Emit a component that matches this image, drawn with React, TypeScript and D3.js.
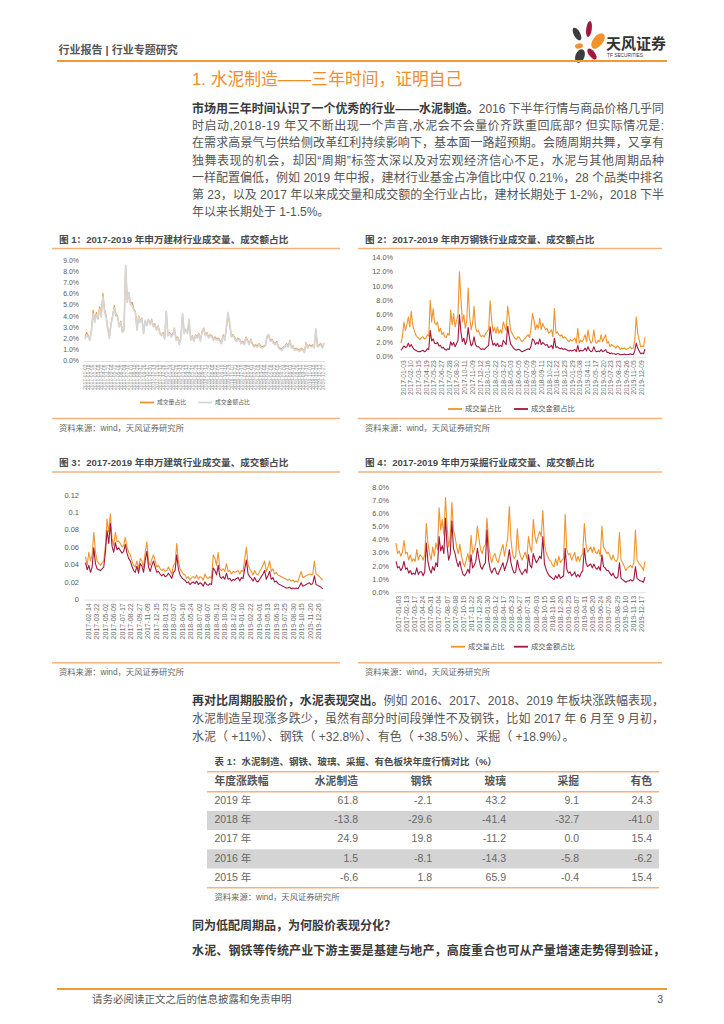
import React from 'react';
import * as d3 from 'd3';

const SANS = "'Liberation Sans', Arial, 'Noto Sans CJK SC', sans-serif";
const ORANGE = '#f0932b';
const CRIMSON = '#a3163d';
const GRAY = '#d6d6d6';
const RULE = '#f5b27c';

// ---------- Chart 1: 建材 ----------
const c1Volume = [2.2,2.6,2.3,2.0,2.9,4.6,3.6,4.4,3.8,4.9,4.2,6.1,4.7,4.1,3.0,2.2,3.4,4.1,5.0,4.3,4.1,3.2,3.6,2.7,2.9,8.5,5.5,6.0,5.2,5.3,4.7,4.5,2.9,4.1,3.6,3.9,2.6,3.6,3.3,3.7,3.4,3.8,3.2,3.4,2.9,3.2,2.6,2.4,2.6,2.1,4.4,2.4,2.6,2.3,2.5,2.9,2.0,2.2,1.6,2.2,4.2,2.6,2.8,2.6,3.6,2.0,2.3,1.9,2.4,2.2,2.5,1.9,2.7,3.0,2.4,2.6,2.2,2.4,2.3,2.0,2.2,2.0,2.1,1.9,1.7,2.4,2.0,3.0,4.2,3.3,2.3,2.4,2.2,1.9,2.1,2.0,1.7,1.8,1.6,2.2,1.9,1.6,2.0,1.6,1.4,1.5,1.4,1.6,1.4,1.3,1.4,1.5,2.2,2.3,1.9,2.0,1.7,1.6,1.8,1.3,1.2,1.1,1.3,1.4,1.6,1.4,1.9,1.3,1.4,1.1,1.2,1.1,1.0,1.2,1.1,0.9,1.7,1.3,1.5,1.4,1.5,1.3,2.8,1.4,1.5,1.6,1.3,1.6];
const c1Amount = [2.0,2.4,2.2,1.9,2.8,4.3,3.5,4.2,3.9,4.7,4.0,5.8,4.5,3.9,2.9,2.1,3.3,4.0,4.8,4.1,4.0,3.1,3.5,2.6,2.8,8.6,5.3,6.2,5.1,5.0,4.6,4.4,2.8,4.0,3.5,3.8,2.5,3.7,3.2,3.8,3.3,3.7,3.1,3.3,2.8,3.1,2.5,2.3,2.5,2.0,4.5,2.3,2.5,2.2,2.4,3.0,1.9,2.1,1.5,2.1,4.3,2.5,2.9,2.5,3.8,1.9,2.2,1.8,2.3,2.1,2.4,1.8,2.6,2.9,2.3,2.5,2.1,2.3,2.2,1.9,2.1,1.9,2.0,1.8,1.6,2.3,1.9,3.2,4.4,3.5,2.2,2.3,2.1,1.8,2.0,1.9,1.6,1.7,1.5,2.1,1.8,1.5,1.9,1.5,1.3,1.4,1.3,1.5,1.3,1.2,1.3,1.4,2.3,2.4,1.8,1.9,1.6,1.5,1.7,1.2,1.1,1.0,1.2,1.3,1.5,1.3,1.8,1.2,1.3,1.0,1.1,1.0,0.9,1.1,1.0,0.8,1.6,1.2,1.4,1.3,1.4,1.2,2.9,1.3,1.4,1.5,1.2,1.7];
const c1Dates = ["2017-01-03","2017-01-18","2017-02-08","2017-02-22","2017-03-08","2017-03-22","2017-04-06","2017-04-21","2017-05-08","2017-05-22","2017-06-06","2017-06-20","2017-07-04","2017-07-18","2017-08-01","2017-08-15","2017-08-29","2017-09-12","2017-09-26","2017-10-17","2017-10-31","2017-11-14","2017-11-28","2017-12-12","2017-12-26","2018-01-10","2018-01-24","2018-02-07","2018-02-28","2018-03-14","2018-03-28","2018-04-13","2018-04-27","2018-05-15","2018-05-29","2018-06-12","2018-06-27","2018-07-11","2018-07-25","2018-08-08","2018-08-22","2018-09-05","2018-09-19","2018-10-10","2018-10-24","2018-11-07","2018-11-21","2018-12-05","2018-12-19","2019-01-04","2019-01-18","2019-02-01","2019-02-22","2019-03-08","2019-03-22","2019-04-08","2019-04-22","2019-05-08","2019-05-22","2019-06-05","2019-06-20","2019-07-04","2019-07-18","2019-08-01","2019-08-15","2019-08-29","2019-09-12","2019-09-27","2019-10-18","2019-11-01","2019-11-15","2019-11-29","2019-12-13","2019-12-27"];
const c1Ticks = [0,1,2,3,4,5,6,7,8,9];

// ---------- Chart 2: 钢铁 ----------
const c2Volume = [2.0,3.0,5.0,3.8,4.6,5.7,4.3,6.5,4.6,3.8,3.2,2.9,2.7,2.5,2.8,2.9,2.6,2.7,3.2,3.0,8.1,5.0,6.9,4.9,4.6,5.0,3.6,4.1,3.2,3.5,2.9,2.8,3.4,3.1,6.7,4.6,6.2,4.3,5.1,6.0,12.1,8.3,5.0,6.0,4.1,5.2,9.8,5.7,3.9,4.8,7.2,4.3,3.6,3.8,3.2,2.9,3.1,2.9,3.4,3.6,4.0,8.0,5.3,3.6,4.2,3.4,4.3,3.4,3.9,3.4,5.0,4.3,3.8,7.2,5.7,3.9,3.4,3.0,2.7,2.5,2.9,2.8,2.4,2.2,2.5,2.7,3.0,3.2,2.8,4.1,6.2,5.3,3.9,4.6,4.1,5.5,3.9,4.8,4.3,3.9,4.1,3.4,3.6,3.9,2.9,6.9,3.4,3.6,3.2,3.0,3.2,2.7,2.9,2.7,2.4,2.2,2.5,2.3,2.5,2.7,2.0,4.1,2.0,2.4,2.2,2.6,3.2,2.2,3.9,2.5,2.0,2.3,3.9,2.2,2.0,2.4,2.2,3.2,2.2,2.7,3.2,2.0,2.2,1.5,1.8,1.7,1.5,1.3,1.6,1.5,1.1,1.3,1.2,1.3,1.1,1.2,1.3,1.5,1.2,1.3,2.5,5.7,3.4,2.5,1.5,1.6,1.5,2.9];
const c2Amount = [1.0,1.3,1.6,1.4,1.5,2.0,1.5,1.8,1.4,1.1,1.0,0.9,0.8,0.8,0.9,1.0,0.8,0.9,1.2,1.1,3.8,2.3,2.6,2.0,1.9,2.1,1.6,1.7,1.3,1.4,1.1,1.0,1.2,1.1,2.2,1.7,2.1,1.5,1.9,2.4,6.0,3.6,2.2,2.7,1.8,2.3,4.2,2.6,1.6,1.9,2.9,1.8,1.5,1.5,1.3,1.1,1.2,1.1,1.3,1.5,1.7,4.3,2.6,1.7,2.0,1.6,2.0,1.5,1.7,1.5,2.4,2.1,1.8,4.4,3.0,1.9,1.6,1.3,1.1,1.0,1.1,1.1,0.9,0.8,0.9,1.0,1.1,1.2,1.1,1.6,2.6,2.4,1.8,2.1,1.9,2.6,1.8,2.1,1.9,1.7,1.8,1.4,1.5,1.7,1.2,2.7,1.4,1.5,1.3,1.2,1.3,1.1,1.2,1.1,1.0,0.9,1.0,0.9,1.0,1.1,0.8,1.7,0.8,1.0,0.9,1.0,1.3,0.9,1.5,1.0,0.8,0.9,1.5,0.9,0.8,0.9,0.8,1.1,0.8,0.9,1.1,0.7,0.7,0.5,0.6,0.5,0.5,0.4,0.5,0.5,0.35,0.4,0.4,0.45,0.35,0.4,0.4,0.5,0.4,0.4,0.9,2.0,1.3,0.9,0.5,0.6,0.5,1.2];
const c2Dates = ["2017-01-03","2017-02-10","2017-03-15","2017-04-19","2017-05-23","2017-06-27","2017-07-28","2017-08-30","2017-10-11","2017-11-09","2017-12-12","2018-01-16","2018-02-22","2018-03-27","2018-05-03","2018-06-05","2018-07-09","2018-08-09","2018-09-11","2018-10-22","2018-11-22","2018-12-25","2019-01-29","2019-03-08","2019-04-11","2019-05-17","2019-06-20","2019-07-23","2019-08-23","2019-09-26","2019-11-05","2019-12-09"];
const c2Ticks = [0,2,4,6,8,10,12,14];

// ---------- Chart 3: 建筑 ----------
const c3Volume = [0.050,0.040,0.055,0.045,0.052,0.078,0.055,0.045,0.042,0.040,0.043,0.045,0.063,0.093,0.078,0.099,0.070,0.063,0.078,0.067,0.068,0.065,0.061,0.063,0.072,0.061,0.055,0.052,0.045,0.040,0.038,0.045,0.036,0.048,0.045,0.038,0.055,0.067,0.045,0.040,0.047,0.052,0.045,0.038,0.040,0.036,0.034,0.036,0.033,0.034,0.038,0.034,0.030,0.040,0.042,0.065,0.045,0.036,0.033,0.030,0.029,0.025,0.027,0.023,0.026,0.027,0.025,0.029,0.024,0.027,0.026,0.023,0.030,0.026,0.025,0.027,0.025,0.052,0.048,0.040,0.055,0.036,0.034,0.036,0.033,0.042,0.033,0.034,0.030,0.033,0.032,0.033,0.034,0.030,0.034,0.033,0.048,0.061,0.040,0.036,0.033,0.029,0.034,0.030,0.029,0.033,0.036,0.040,0.045,0.033,0.038,0.045,0.033,0.036,0.030,0.032,0.029,0.028,0.027,0.026,0.025,0.024,0.023,0.024,0.022,0.023,0.021,0.022,0.021,0.027,0.033,0.026,0.027,0.028,0.029,0.030,0.029,0.030,0.045,0.030,0.029,0.027,0.025,0.023];
const c3Amount = [0.043,0.035,0.040,0.032,0.038,0.060,0.042,0.036,0.035,0.034,0.036,0.038,0.055,0.080,0.065,0.088,0.062,0.055,0.066,0.058,0.060,0.057,0.054,0.056,0.064,0.054,0.048,0.045,0.039,0.034,0.032,0.039,0.031,0.042,0.039,0.032,0.046,0.056,0.038,0.033,0.040,0.045,0.038,0.032,0.033,0.030,0.028,0.030,0.027,0.028,0.031,0.028,0.025,0.032,0.034,0.052,0.036,0.029,0.026,0.024,0.023,0.020,0.021,0.018,0.020,0.021,0.019,0.022,0.018,0.020,0.019,0.016,0.021,0.018,0.017,0.019,0.018,0.037,0.034,0.029,0.040,0.027,0.025,0.027,0.024,0.031,0.024,0.025,0.022,0.024,0.023,0.025,0.026,0.022,0.026,0.025,0.036,0.046,0.030,0.027,0.025,0.022,0.026,0.022,0.021,0.024,0.027,0.030,0.034,0.024,0.028,0.033,0.024,0.026,0.021,0.022,0.019,0.018,0.017,0.016,0.015,0.014,0.014,0.015,0.013,0.014,0.013,0.014,0.013,0.016,0.020,0.016,0.017,0.018,0.019,0.020,0.018,0.019,0.028,0.018,0.017,0.016,0.015,0.013];
const c3Dates = ["2017-02-14","2017-03-22","2017-05-02","2017-06-09","2017-07-17","2017-08-22","2017-09-27","2017-11-09","2017-12-15","2018-01-23","2018-03-07","2018-04-16","2018-05-24","2018-07-02","2018-08-07","2018-09-12","2018-10-26","2018-12-03","2019-01-10","2019-02-22","2019-04-01","2019-05-13","2019-06-19","2019-07-25","2019-08-30","2019-10-15","2019-11-20","2019-12-26"];
const c3Ticks = [0,0.02,0.04,0.06,0.08,0.1,0.12];

// ---------- Chart 4: 采掘 ----------
const c4Volume = [3.8,3.0,3.2,2.8,3.1,4.0,3.0,3.1,2.5,2.9,2.4,2.6,2.4,3.3,2.5,2.9,2.8,2.5,2.9,5.3,3.8,3.0,2.5,3.5,2.8,3.8,3.3,6.5,4.8,5.6,4.4,7.3,5.1,3.5,4.3,6.9,4.8,4.3,3.5,3.0,3.7,2.8,2.3,2.0,2.5,3.0,2.4,4.4,3.0,3.3,3.8,5.1,4.1,3.3,3.0,3.5,3.7,5.7,3.8,2.8,2.3,2.8,3.0,2.5,2.3,2.8,3.3,3.7,2.8,3.5,4.2,6.6,4.1,3.0,2.6,2.8,4.9,3.3,2.8,2.5,2.8,3.1,2.6,4.3,3.5,3.1,5.6,4.4,3.8,4.3,4.7,4.3,6.3,3.7,3.1,2.8,2.5,2.4,2.1,2.0,2.6,2.1,2.8,2.3,2.5,2.6,6.0,3.3,2.9,3.0,2.5,2.8,3.1,2.4,2.8,2.4,2.8,3.0,5.3,3.7,3.1,3.3,3.5,3.1,3.5,3.1,3.0,3.3,2.8,5.1,3.5,3.3,3.0,3.1,2.8,2.5,2.9,2.5,2.4,2.6,4.6,2.5,2.3,2.0,1.7,1.9,2.0,2.1,1.9,2.3,4.8,2.5,2.3,2.1,2.0,1.7,2.4];
const c4Amount = [2.4,1.9,2.0,1.7,1.9,2.4,1.8,1.9,1.5,1.7,1.4,1.5,1.4,1.9,1.4,1.6,1.6,1.3,1.6,3.8,2.4,1.8,1.5,2.0,1.7,2.3,2.0,4.3,3.2,3.6,3.0,5.7,3.6,2.5,3.0,5.5,3.4,3.0,2.4,2.0,2.4,1.8,1.4,1.3,1.5,1.8,1.5,2.9,1.9,2.1,2.4,3.4,2.6,2.0,1.8,2.1,2.3,4.8,2.5,1.8,1.5,1.8,1.9,1.5,1.4,1.7,2.0,2.3,1.7,2.1,2.5,3.3,2.3,1.8,1.5,1.6,2.5,1.9,1.6,1.4,1.6,1.8,1.5,2.9,2.1,1.9,3.0,2.6,2.3,2.5,2.8,2.6,4.3,2.2,1.8,1.5,1.3,1.2,1.1,1.0,1.3,1.1,1.4,1.1,1.2,1.3,3.4,1.8,1.5,1.6,1.3,1.4,1.6,1.2,1.4,1.2,1.5,1.7,3.4,2.3,2.0,2.1,2.2,1.9,2.2,1.9,1.8,2.0,1.7,2.9,2.0,1.9,1.7,1.7,1.5,1.3,1.5,1.2,1.1,1.2,2.3,1.1,1.0,0.9,0.8,0.9,0.9,1.0,0.9,1.0,2.0,1.1,1.0,0.9,0.9,0.8,1.2];
const c4Dates = ["2017-01-03","2017-02-13","2017-03-17","2017-04-24","2017-05-31","2017-07-04","2017-08-07","2017-09-08","2017-10-19","2017-11-22","2017-12-26","2018-01-30","2018-03-12","2018-04-17","2018-05-23","2018-06-27","2018-07-31","2018-09-03","2018-10-15","2018-11-16","2018-12-20","2019-01-25","2019-03-07","2019-04-11","2019-05-20","2019-06-24","2019-07-26","2019-08-29","2019-10-10","2019-11-13","2019-12-17"];
const c4Ticks = [0,1,2,3,4,5,6,7,8];

const legendNames = ['成交量占比', '成交金额占比'];

// ---------- Table ----------
const tableHeaders = ['年度涨跌幅', '水泥制造', '钢铁', '玻璃', '采掘', '有色'];
const tableYears = ['2019 年', '2018 年', '2017 年', '2016 年', '2015 年'];
const cementChg = [61.8, -13.8, 24.9, 1.5, -6.6];
const steelChg = [-2.1, -29.6, 19.8, -8.1, 1.8];
const glassChg = [43.2, -41.4, -11.2, -14.3, 65.9];
const miningChg = [9.1, -32.7, 0.0, -5.8, -0.4];
const nonferrousChg = [24.3, -41.0, 15.4, -6.2, 15.4];

// ---------- Text ----------
const para1 = [
  { b: '市场用三年时间认识了一个优秀的行业——水泥制造。', t: '2016 下半年行情与商品价格几乎同', j: true },
  { b: '', t: '时启动,2018-19 年又不断出现一个声音,水泥会不会量价齐跌重回底部? 但实际情况是:', j: true },
  { b: '', t: '在需求高景气与供给侧改革红利持续影响下，基本面一路超预期。会随周期共舞，又享有', j: true },
  { b: '', t: '独舞表现的机会，却因“周期”标签太深以及对宏观经济信心不足，水泥与其他周期品种', j: true },
  { b: '', t: '一样配置偏低，例如 2019 年中报，建材行业基金占净值比中仅 0.21%，28 个品类中排名', j: true },
  { b: '', t: '第 23，以及 2017 年以来成交量和成交额的全行业占比，建材长期处于 1-2%，2018 下半', j: true },
  { b: '', t: '年以来长期处于 1-1.5%。', j: false },
];
const para2 = [
  { b: '再对比周期股股价，水泥表现突出。', t: '例如 2016、2017、2018、2019 年板块涨跌幅表现，', j: true },
  { b: '', t: '水泥制造呈现涨多跌少，虽然有部分时间段弹性不及钢铁，比如 2017 年 6 月至 9 月初，', j: true },
  { b: '', t: '水泥（ +11%）、钢铁（ +32.8%）、有色（ +38.5%）、采掘（ +18.9%）。', j: false },
];

const locale = d3.formatLocale({ decimal: '.', thousands: ',', grouping: [3], currency: ['', ''], minus: '-' });

type Series = { values: number[]; color: string; width: number };
type ChartCfg = {
  title: string; left: number; right: number; titleY: number; ruleY: number;
  bottomRuleY: number; sourceY: number;
  x0: number; x1: number; yTop: number; yBottom: number; yMax: number;
  ticks: number[]; fmt: (v: number) => string; labelRight: number; tickFont: number;
  dates: string[]; dateFont: number; dateColor: string;
  series: Series[];
  legend?: { y: number; items: { x: number; color: string; name: string }[]; font: number };
};

function LineChart({ c }: { c: ChartCfg }) {
  const y = d3.scaleLinear().domain([0, c.yMax]).range([c.yBottom, c.yTop]);
  const xl = d3.scalePoint<string>().domain(c.dates).range([c.x0, c.x1]).padding(0.5);
  return (
    <g>
      <text x={c.left + 7} y={c.titleY} fontSize={9.6} fontWeight="bold" fill="#4a4a4a" dominantBaseline="middle" fontFamily={SANS}>{c.title}</text>
      <line x1={c.left} x2={c.right} y1={c.ruleY} y2={c.ruleY} stroke={RULE} strokeWidth={1.5} />
      {c.ticks.map((t) => (
        <text key={t} x={c.labelRight} y={y(t)} fontSize={c.tickFont} fill="#595959" textAnchor="end" dominantBaseline="middle" fontFamily={SANS}>{c.fmt(t)}</text>
      ))}
      <line x1={c.x0} x2={c.x1} y1={y(0)} y2={y(0)} stroke="#d9d9d9" strokeWidth={0.8} />
      {c.series.map((s, i) => {
        const x = d3.scaleLinear().domain([0, s.values.length - 1]).range([c.x0 + 1, c.x1 - 1]);
        const path = d3.line<number>().x((_, k) => x(k)).y((v) => y(v))(s.values) || '';
        return <path key={i} d={path} fill="none" stroke={s.color} strokeWidth={s.width} strokeLinejoin="round" />;
      })}
      {c.dates.map((d) => (
        <text key={d} transform={`translate(${xl(d)},${c.yBottom + 3}) rotate(-90)`} fontSize={c.dateFont} fill={c.dateColor} textAnchor="end" dominantBaseline="middle" fontFamily={SANS}>{d}</text>
      ))}
      {c.legend && c.legend.items.map((it) => (
        <g key={it.name}>
          <line x1={it.x} x2={it.x + 14} y1={c.legend!.y} y2={c.legend!.y} stroke={it.color} strokeWidth={1.8} />
          <text x={it.x + 17} y={c.legend!.y} fontSize={c.legend!.font} fill="#595959" dominantBaseline="middle" fontFamily={SANS}>{it.name}</text>
        </g>
      ))}
      <line x1={c.left} x2={c.right} y1={c.bottomRuleY} y2={c.bottomRuleY} stroke={RULE} strokeWidth={1.5} />
      <text x={c.left + 7} y={c.sourceY} fontSize={8.3} fill="#666" dominantBaseline="middle" fontFamily={SANS}>资料来源：wind，天风证券研究所</text>
    </g>
  );
}

const pct1 = (v: number) => locale.format('.1f')(v) + '%';
const dec = (v: number) => (v === 0 ? '0' : String(v));

const charts: ChartCfg[] = [
  {
    title: '图 1：2017-2019 年申万建材行业成交量、成交额占比', left: 52, right: 340, titleY: 240, ruleY: 248.5,
    bottomRuleY: 418.5, sourceY: 429, x0: 84, x1: 325, yTop: 261, yBottom: 361.5, yMax: 9,
    ticks: c1Ticks, fmt: pct1, labelRight: 79, tickFont: 6.9, dates: c1Dates, dateFont: 5, dateColor: '#9a9a9a',
    series: [{ values: c1Volume, color: ORANGE, width: 1.1 }, { values: c1Amount, color: GRAY, width: 1.7 }],
    legend: { y: 402.5, font: 5.8, items: [{ x: 140, color: ORANGE, name: legendNames[0] }, { x: 198, color: GRAY, name: legendNames[1] }] },
  },
  {
    title: '图 2：2017-2019 年申万钢铁行业成交量、成交额占比', left: 358, right: 662, titleY: 240, ruleY: 248.5,
    bottomRuleY: 418.5, sourceY: 429, x0: 400, x1: 646, yTop: 258.3, yBottom: 357.3, yMax: 14,
    ticks: c2Ticks, fmt: pct1, labelRight: 393, tickFont: 7.3, dates: c2Dates, dateFont: 6.8, dateColor: '#6f6f6f',
    series: [{ values: c2Volume, color: ORANGE, width: 1.1 }, { values: c2Amount, color: CRIMSON, width: 1.1 }],
    legend: { y: 409, font: 7.3, items: [{ x: 448, color: ORANGE, name: legendNames[0] }, { x: 514, color: CRIMSON, name: legendNames[1] }] },
  },
  {
    title: '图 3：2017-2019 年申万建筑行业成交量、成交额占比', left: 52, right: 340, titleY: 463, ruleY: 472,
    bottomRuleY: 662.7, sourceY: 673, x0: 84.5, x1: 323.7, yTop: 495.6, yBottom: 600.2, yMax: 0.12,
    ticks: c3Ticks, fmt: dec, labelRight: 79, tickFont: 7.5, dates: c3Dates, dateFont: 7.1, dateColor: '#6f6f6f',
    series: [{ values: c3Volume, color: ORANGE, width: 1.1 }, { values: c3Amount, color: CRIMSON, width: 1.1 }],
  },
  {
    title: '图 4：2017-2019 年申万采掘行业成交量、成交额占比', left: 358, right: 662, titleY: 463, ruleY: 472,
    bottomRuleY: 662.7, sourceY: 673, x0: 395, x1: 646, yTop: 488.3, yBottom: 592.7, yMax: 8,
    ticks: c4Ticks, fmt: pct1, labelRight: 389, tickFont: 7.3, dates: c4Dates, dateFont: 7.1, dateColor: '#6f6f6f',
    series: [{ values: c4Volume, color: ORANGE, width: 1.1 }, { values: c4Amount, color: CRIMSON, width: 1.1 }],
    legend: { y: 646.7, font: 7.3, items: [{ x: 451, color: ORANGE, name: legendNames[0] }, { x: 514, color: CRIMSON, name: legendNames[1] }] },
  },
];

function Paragraph({ lines, y0, step }: { lines: { b: string; t: string; j: boolean }[]; y0: number; step: number }) {
  return (
    <g>
      {lines.map((l, i) => (
        <text key={i} x={192} y={y0 + i * step} fontSize={12} fill="#555" fontFamily={SANS} dominantBaseline="middle"
          {...(l.j ? { textLength: 472, lengthAdjust: 'spacing' } : {})}>
          {l.b && <tspan fontWeight="bold" fill="#3a3a3a">{l.b}</tspan>}
          <tspan>{l.t}</tspan>
        </text>
      ))}
    </g>
  );
}

function Table() {
  const rowBand = d3.scaleBand<string>().domain(tableYears).range([791.7, 887.7]);
  const colRight = [0, 358, 432, 506, 579, 652];
  const cols = [cementChg, steelChg, glassChg, miningChg, nonferrousChg];
  const f = locale.format('.1f');
  return (
    <g fontFamily={SANS}>
      <text x={214.5} y={762} fontSize={9.5} fontWeight="bold" fill="#4a4a4a" dominantBaseline="middle">表 1：水泥制造、钢铁、玻璃、采掘、有色板块年度行情对比（%）</text>
      {tableYears.map((yr, i) => (i % 2 === 1 ? (
        <rect key={yr} x={207} y={rowBand(yr)} width={452} height={rowBand.bandwidth()} fill="#d4d4d4" />
      ) : null))}
      <line x1={207} x2={659} y1={771.7} y2={771.7} stroke={RULE} strokeWidth={1.5} />
      <line x1={207} x2={659} y1={791.7} y2={791.7} stroke={RULE} strokeWidth={1.5} />
      <line x1={207} x2={659} y1={887.7} y2={887.7} stroke={RULE} strokeWidth={1.5} />
      {tableHeaders.map((h, i) => (
        <text key={h} x={i === 0 ? 214.5 : colRight[i]} y={782} fontSize={10.8} fontWeight="bold" fill="#555"
          textAnchor={i === 0 ? 'start' : 'end'} dominantBaseline="middle">{h}</text>
      ))}
      {tableYears.map((yr, r) => (
        <g key={yr}>
          <text x={214.5} y={(rowBand(yr) as number) + rowBand.bandwidth() / 2} fontSize={10.5} fill="#666" dominantBaseline="middle">{yr}</text>
          {cols.map((col, ci) => (
            <text key={ci} x={colRight[ci + 1]} y={(rowBand(yr) as number) + rowBand.bandwidth() / 2} fontSize={10.5} fill="#666"
              textAnchor="end" dominantBaseline="middle">{f(col[r])}</text>
          ))}
        </g>
      ))}
      <text x={214.5} y={898} fontSize={8.3} fill="#666" dominantBaseline="middle">资料来源：wind，天风证券研究所</text>
    </g>
  );
}

function Logo() {
  return (
    <g>
      <ellipse cx={577} cy={34} rx={3.2} ry={7} fill="#3d3d3d" transform="rotate(-28 577 34)" />
      <ellipse cx={589} cy={29} rx={2.8} ry={8} fill={CRIMSON} transform="rotate(8 589 29)" />
      <ellipse cx={598} cy={41} rx={5} ry={9} fill={ORANGE} transform="rotate(38 598 41)" />
      <ellipse cx={579} cy={46} rx={4} ry={2.6} fill={ORANGE} transform="rotate(-10 579 46)" />
      <ellipse cx={580} cy={56} rx={4.5} ry={7} fill="#3d3d3d" transform="rotate(22 580 56)" />
      <ellipse cx={592} cy={54} rx={3} ry={6.5} fill={CRIMSON} transform="rotate(-38 592 54)" />
      <text x={606} y={45} fontSize={15} fontWeight="bold" fill="#333" dominantBaseline="middle" fontFamily={SANS}>天风证券</text>
      <text x={607} y={56} fontSize={4.8} fill="#333" dominantBaseline="middle" fontFamily={SANS}>TF SECURITIES</text>
    </g>
  );
}

export default function App() {
  return (
    <svg width={724} height={1024} viewBox="0 0 724 1024" style={{ position: 'absolute', left: 0, top: 0, background: '#fff' }}>
      <rect width={724} height={1024} fill="#fff" />
      <text x={58.5} y={51} fontSize={11} fontWeight="bold" fill="#555" dominantBaseline="middle" fontFamily={SANS}>行业报告 | 行业专题研究</text>
      <Logo />
      <line x1={57} x2={667} y1={61} y2={61} stroke="#f39a2a" strokeWidth={2} />
      <text x={192} y={81} fontSize={16.8} fill="#f08c2a" dominantBaseline="middle" fontFamily={SANS}>1. 水泥制造——三年时间，证明自己</text>
      <Paragraph lines={para1} y0={110} step={17.2} />
      {charts.map((c) => <LineChart key={c.title} c={c} />)}
      <Paragraph lines={para2} y0={702} step={17.8} />
      <Table />
      <text x={192} y={927} fontSize={12} fontWeight="bold" fill="#3a3a3a" dominantBaseline="middle" fontFamily={SANS}>同为低配周期品，为何股价表现分化？</text>
      <text x={192} y={952} fontSize={12} fontWeight="bold" fill="#3a3a3a" dominantBaseline="middle" fontFamily={SANS} textLength={473} lengthAdjust="spacing">水泥、钢铁等传统产业下游主要是基建与地产，高度重合也可从产量增速走势得到验证，</text>
      <line x1={57} x2={667} y1={989} y2={989} stroke="#f39a2a" strokeWidth={2} />
      <text x={92} y={1000} fontSize={10.5} fill="#555" dominantBaseline="middle" fontFamily={SANS}>请务必阅读正文之后的信息披露和免责申明</text>
      <text x={663} y={1000} fontSize={10.5} fill="#555" textAnchor="end" dominantBaseline="middle" fontFamily={SANS}>3</text>
    </svg>
  );
}
